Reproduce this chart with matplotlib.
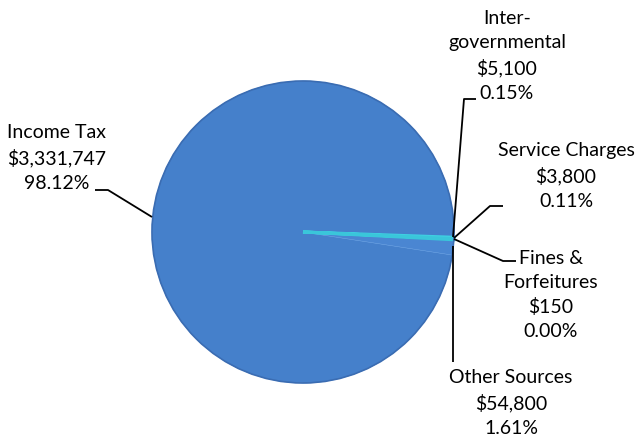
import matplotlib
matplotlib.use("Agg")
import matplotlib.pyplot as plt

categories = ["Income Tax", "Inter-\ngovernmental", "Service Charges", "Fines &\nForfeitures", "Other Sources"]
amounts = [3331747, 5100, 3800, 150, 54800]
amount_labels = ["$3,331,747", "$5,100", "$3,800", "$150", "$54,800"]
pct_labels = ["98.12%", "0.15%", "0.11%", "0.00%", "1.61%"]
colors = ["#4580CB", "#3FD0E2", "#3AC6DA", "#2AA6C0", "#4A86D2"]

W, H = 637, 440
CX, CY, R = 303, 232, 151

fig = plt.figure(figsize=(W / 100, H / 100), dpi=100)
ax = fig.add_axes([0, 0, 1, 1])

total = sum(amounts)
start = -2.0 + 360.0 * amounts[0] / total - 360.0
wedges, _ = ax.pie(amounts, colors=colors, startangle=start, counterclock=False,
                   radius=1.0, center=(0, 0), frame=True,
                   wedgeprops=dict(edgecolor="#5E98DE", linewidth=0.4))
for w in wedges[1:3]:
    w.set_edgecolor(w.get_facecolor())
    w.set_linewidth(2.2)
    w.set_zorder(3)
# soft outer rim
rim = plt.Circle((0, 0), 1.0, fill=False, edgecolor="#3A6CB2", lw=1.2, zorder=4)
ax.add_patch(rim)

ax.set_xlim(-CX / R, (W - CX) / R)
ax.set_ylim(-(H - CY) / R, CY / R)
ax.axis("off")


def d(px, py):
    return ((px - CX) / R, (CY - py) / R)


label_pos = [(57, 158), (507, 56), (566, 176), (551, 295), (511, 403)]
leaders = [
    [(95, 190), (108, 190), (152, 217)],
    [(476, 99), (464, 99), (453, 237)],
    [(503, 206), (490, 206), (454, 238)],
    [(516, 261), (503, 261), (454, 239)],
    [(453, 362), (453, 246)],
]

for i, cat in enumerate(categories):
    txt = f"{cat}\n{amount_labels[i]}\n{pct_labels[i]}"
    x, y = d(*label_pos[i])
    ax.text(x, y, txt, ha="center", va="center", fontsize=14, family="Lato",
            linespacing=1.5, color="#000000")
    pts = [d(*p) for p in leaders[i]]
    ax.plot([p[0] for p in pts], [p[1] for p in pts], color="black", lw=1.3,
            solid_capstyle="butt", zorder=5)

fig.savefig("out.png", dpi=100)
